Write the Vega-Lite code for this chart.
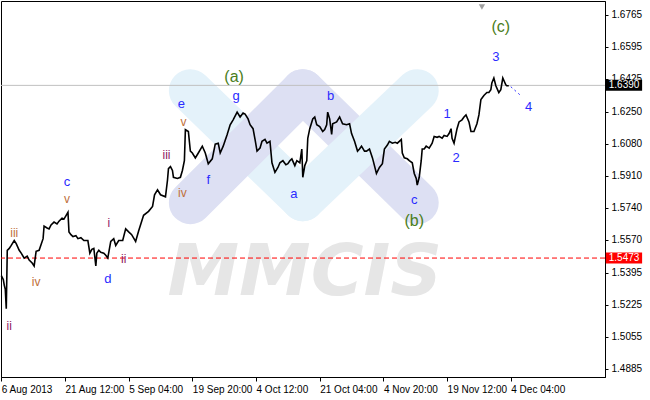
{
  "$schema": "https://vega.github.io/schema/vega-lite/v6.json",
  "width": 604,
  "height": 376,
  "autosize": {"type": "none"},
  "padding": {"left": 1, "top": 1, "right": 45, "bottom": 23},
  "background": "white",
  "config": {
    "view": {"stroke": "black", "strokeWidth": 1},
    "axis": {"labelFont": "Liberation Sans", "labelFontSize": 10, "labelColor": "black", "domainColor": "black", "tickColor": "black", "grid": false, "title": null, "labelOverlap": false, "labelFlush": false}
  },
  "resolve": {"scale": {"color": "independent"}},
  "datasets": {
    "prices": [
      {"bar":0,"price":1.5380},{"bar":2,"price":1.5359},{"bar":3,"price":1.5328},{"bar":4,"price":1.5307},{"bar":5,"price":1.5204},
      {"bar":6,"price":1.5514},{"bar":8,"price":1.5524},{"bar":10,"price":1.5540},{"bar":13,"price":1.5566},{"bar":15,"price":1.5550},
      {"bar":18,"price":1.5514},{"bar":20,"price":1.5499},{"bar":23,"price":1.5473},{"bar":26,"price":1.5483},{"bar":28,"price":1.5462},
      {"bar":31,"price":1.5447},{"bar":33,"price":1.5431},{"bar":35,"price":1.5509},{"bar":38,"price":1.5514},{"bar":40,"price":1.5545},
      {"bar":42,"price":1.5576},{"bar":43,"price":1.5643},{"bar":46,"price":1.5633},{"bar":48,"price":1.5628},{"bar":50,"price":1.5649},
      {"bar":53,"price":1.5664},{"bar":56,"price":1.5654},{"bar":58,"price":1.5669},{"bar":61,"price":1.5685},{"bar":63,"price":1.5680},
      {"bar":67,"price":1.5716},{"bar":68,"price":1.5612},{"bar":70,"price":1.5597},{"bar":72,"price":1.5587},{"bar":75,"price":1.5592},
      {"bar":77,"price":1.5576},{"bar":80,"price":1.5581},{"bar":83,"price":1.5566},{"bar":87,"price":1.5566},{"bar":89,"price":1.5499},
      {"bar":91,"price":1.5519},{"bar":93,"price":1.5524},{"bar":95,"price":1.5431},{"bar":96,"price":1.5499},{"bar":98,"price":1.5514},
      {"bar":100,"price":1.5504},{"bar":103,"price":1.5499},{"bar":105,"price":1.5488},{"bar":107,"price":1.5473},{"bar":110,"price":1.5561},
      {"bar":113,"price":1.5576},{"bar":115,"price":1.5540},{"bar":118,"price":1.5566},{"bar":122,"price":1.5566},{"bar":125,"price":1.5628},
      {"bar":128,"price":1.5612},{"bar":131,"price":1.5597},{"bar":135,"price":1.5561},{"bar":138,"price":1.5617},{"bar":143,"price":1.5700},
      {"bar":148,"price":1.5721},{"bar":152,"price":1.5747},{"bar":154,"price":1.5809},{"bar":157,"price":1.5835},{"bar":160,"price":1.5809},
      {"bar":165,"price":1.5798},{"bar":167,"price":1.5886},{"bar":168,"price":1.5948},{"bar":170,"price":1.5959},{"bar":172,"price":1.5938},
      {"bar":173,"price":1.5902},{"bar":177,"price":1.5896},{"bar":180,"price":1.5902},{"bar":182,"price":1.5938},{"bar":184,"price":1.5990},
      {"bar":185,"price":1.6155},{"bar":188,"price":1.6145},{"bar":190,"price":1.6041},{"bar":192,"price":1.6031},{"bar":195,"price":1.6005},
      {"bar":198,"price":1.6031},{"bar":202,"price":1.6067},{"bar":205,"price":1.6031},{"bar":208,"price":1.5974},{"bar":212,"price":1.6000},
      {"bar":215,"price":1.6078},{"bar":218,"price":1.6083},{"bar":220,"price":1.6031},{"bar":223,"price":1.6067},{"bar":227,"price":1.6129},
      {"bar":230,"price":1.6181},{"bar":233,"price":1.6207},{"bar":237,"price":1.6248},{"bar":240,"price":1.6222},{"bar":243,"price":1.6243},
      {"bar":245,"price":1.6238},{"bar":248,"price":1.6212},{"bar":250,"price":1.6181},{"bar":253,"price":1.6160},{"bar":255,"price":1.6103},
      {"bar":257,"price":1.6041},{"bar":260,"price":1.6057},{"bar":262,"price":1.6093},{"bar":265,"price":1.6103},{"bar":267,"price":1.6083},
      {"bar":270,"price":1.6093},{"bar":272,"price":1.5979},{"bar":275,"price":1.5928},{"bar":278,"price":1.5954},{"bar":280,"price":1.5979},
      {"bar":283,"price":1.5990},{"bar":286,"price":1.5969},{"bar":288,"price":1.5974},{"bar":290,"price":1.5990},{"bar":292,"price":1.6000},
      {"bar":295,"price":1.5964},{"bar":297,"price":1.5990},{"bar":300,"price":1.5979},{"bar":302,"price":1.6052},{"bar":303,"price":1.5902},
      {"bar":305,"price":1.5964},{"bar":307,"price":1.5990},{"bar":308,"price":1.6109},{"bar":310,"price":1.6160},{"bar":313,"price":1.6212},
      {"bar":315,"price":1.6222},{"bar":317,"price":1.6181},{"bar":320,"price":1.6171},{"bar":323,"price":1.6145},{"bar":325,"price":1.6155},
      {"bar":327,"price":1.6181},{"bar":328,"price":1.6248},{"bar":330,"price":1.6212},{"bar":332,"price":1.6129},{"bar":333,"price":1.6186},
      {"bar":337,"price":1.6196},{"bar":340,"price":1.6222},{"bar":343,"price":1.6186},{"bar":347,"price":1.6181},{"bar":350,"price":1.6186},
      {"bar":352,"price":1.6134},{"bar":355,"price":1.6093},{"bar":358,"price":1.6041},{"bar":360,"price":1.6052},{"bar":362,"price":1.6067},
      {"bar":365,"price":1.6041},{"bar":367,"price":1.6041},{"bar":370,"price":1.6052},{"bar":373,"price":1.6005},{"bar":375,"price":1.5964},
      {"bar":377,"price":1.5922},{"bar":380,"price":1.5954},{"bar":383,"price":1.5974},{"bar":385,"price":1.6052},{"bar":388,"price":1.6073},
      {"bar":390,"price":1.6093},{"bar":393,"price":1.6083},{"bar":396,"price":1.6088},{"bar":398,"price":1.6083},{"bar":400,"price":1.6093},
      {"bar":402,"price":1.6103},{"bar":403,"price":1.6031},{"bar":405,"price":1.6005},{"bar":408,"price":1.6000},{"bar":410,"price":1.5990},
      {"bar":413,"price":1.5979},{"bar":415,"price":1.5922},{"bar":417,"price":1.5896},{"bar":418,"price":1.5860},{"bar":420,"price":1.5902},
      {"bar":422,"price":1.5990},{"bar":423,"price":1.6052},{"bar":425,"price":1.6052},{"bar":427,"price":1.6067},{"bar":430,"price":1.6057},
      {"bar":433,"price":1.6083},{"bar":435,"price":1.6119},{"bar":438,"price":1.6114},{"bar":440,"price":1.6119},{"bar":443,"price":1.6109},
      {"bar":445,"price":1.6124},{"bar":448,"price":1.6119},{"bar":450,"price":1.6134},{"bar":452,"price":1.6160},{"bar":453,"price":1.6109},
      {"bar":455,"price":1.6083},{"bar":458,"price":1.6160},{"bar":460,"price":1.6196},{"bar":463,"price":1.6207},{"bar":465,"price":1.6222},
      {"bar":467,"price":1.6233},{"bar":470,"price":1.6196},{"bar":472,"price":1.6145},{"bar":475,"price":1.6145},{"bar":478,"price":1.6186},
      {"bar":480,"price":1.6233},{"bar":482,"price":1.6315},{"bar":485,"price":1.6336},{"bar":488,"price":1.6352},{"bar":490,"price":1.6352},
      {"bar":492,"price":1.6367},{"bar":493,"price":1.6403},{"bar":495,"price":1.6429},{"bar":497,"price":1.6388},{"bar":500,"price":1.6352},
      {"bar":502,"price":1.6367},{"bar":504,"price":1.6429},{"bar":507,"price":1.6393},{"bar":508,"price":1.6388},{"bar":510,"price":1.6388}
    ],
    "labels": [
      {"label":"(a)","bar":234,"price":1.6434,"deg":"P"},
      {"label":"(b)","bar":415,"price":1.5669,"deg":"P"},
      {"label":"(c)","bar":502,"price":1.6698,"deg":"P"},
      {"label":"c","bar":66,"price":1.5876,"deg":"I"},
      {"label":"d","bar":107,"price":1.5364,"deg":"I"},
      {"label":"e","bar":181,"price":1.6289,"deg":"I"},
      {"label":"f","bar":208,"price":1.5886,"deg":"I"},
      {"label":"g","bar":236,"price":1.6336,"deg":"I"},
      {"label":"a","bar":294,"price":1.5814,"deg":"I"},
      {"label":"b","bar":331,"price":1.6331,"deg":"I"},
      {"label":"c","bar":415,"price":1.5783,"deg":"I"},
      {"label":"1","bar":448,"price":1.6238,"deg":"I"},
      {"label":"2","bar":457,"price":1.6005,"deg":"I"},
      {"label":"3","bar":497,"price":1.6543,"deg":"I"},
      {"label":"4","bar":530,"price":1.6274,"deg":"I"},
      {"label":"iii","bar":13,"price":1.5607,"deg":"M1"},
      {"label":"iv","bar":35,"price":1.5344,"deg":"M1"},
      {"label":"v","bar":66,"price":1.5788,"deg":"M1"},
      {"label":"iv","bar":182,"price":1.5819,"deg":"M1"},
      {"label":"v","bar":183,"price":1.6196,"deg":"M1"},
      {"label":"ii","bar":8,"price":1.5111,"deg":"M2"},
      {"label":"i","bar":108,"price":1.5659,"deg":"M2"},
      {"label":"ii","bar":123,"price":1.5468,"deg":"M2"},
      {"label":"iii","bar":166,"price":1.6021,"deg":"M2"}
    ],
    "logo": [
      {"tone":"cyan","bar":190,"price":1.6362,"bar2":303,"price2":1.5783},
      {"tone":"lavender","bar":190,"price":1.5767,"bar2":303,"price2":1.6362},
      {"tone":"lavender","bar":303,"price":1.6362,"bar2":418,"price2":1.5767},
      {"tone":"cyan","bar":303,"price":1.5783,"bar2":418,"price2":1.6362}
    ],
    "levels": [
      {"price": 1.639, "tag": "1.6390", "kind": "ask"},
      {"price": 1.5473, "tag": "1.5473", "kind": "level"}
    ]
  },
  "encoding": {
    "y": {"field": "price", "type": "quantitative", "scale": {"domain": [1.48679, 1.68115], "nice": false, "zero": false},
      "axis": {"title": null, "orient": "right", "values": [1.4885, 1.5055, 1.5225, 1.5395, 1.557, 1.574, 1.591, 1.608, 1.625, 1.6425, 1.6595, 1.6765],
        "format": ".4f", "tickSize": 3, "labelPadding": 3, "labelOverlap": false, "labelBaseline": "middle"}}
  },
  "layer": [
    {
      "data": {"name": "prices"},
      "mark": {"type": "line", "color": "black", "strokeWidth": 1.6, "opacity": 0},
      "encoding": {
        "x": {"field": "bar", "type": "quantitative", "scale": {"domain": [-0.3, 606.7], "nice": false, "zero": false},
          "axis": {"title": null, "values": [0, 64, 128, 192, 256, 320, 384, 448, 512],
            "labelExpr": "['6 Aug 2013','21 Aug 12:00','5 Sep 04:00','19 Sep 20:00','4 Oct 12:00','21 Oct 04:00','4 Nov 20:00','19 Nov 12:00','4 Dec 04:00'][round(datum.value/64)]",
            "labelAlign": "left", "labelBaseline": "top", "labelPadding": 3, "tickSize": 4, "labelFlush": false, "labelOverlap": false}}
      }
    },
    {
      "data": {"name": "logo"},
      "mark": {"type": "rule", "strokeWidth": 43, "strokeCap": "round"},
      "encoding": {
        "x": {"field": "bar", "type": "quantitative"},
        "x2": {"field": "bar2"},
        "y2": {"field": "price2"},
        "color": {"field": "tone", "type": "nominal", "scale": {"domain": ["cyan", "lavender"], "range": ["#e4f2fa", "#dde0f3"]}, "legend": null}
      }
    },
    {
      "data": {"values": [{"bar": 305, "price": 1.5276, "word": "MMCIS"}]},
      "mark": {"type": "text", "font": "DejaVu Sans", "fontWeight": "bold", "fontStyle": "italic", "fontSize": 72, "color": "#e6e6e6", "align": "center", "baseline": "alphabetic"},
      "encoding": {
        "x": {"field": "bar", "type": "quantitative"},
        "text": {"field": "word"}
      }
    },
    {
      "data": {"name": "levels"},
      "transform": [{"filter": "datum.kind === 'ask'"}],
      "mark": {"type": "rule", "strokeWidth": 1, "color": "#c0c0c0"},
      "encoding": {}
    },
    {
      "data": {"name": "levels"},
      "transform": [{"filter": "datum.kind === 'level'"}],
      "mark": {"type": "rule", "strokeWidth": 1, "color": "#ff0000", "strokeDash": [5, 3]},
      "encoding": {}
    },
    {
      "data": {"name": "prices"},
      "mark": {"type": "line", "color": "black", "strokeWidth": 1.6, "strokeJoin": "miter"},
      "encoding": {
        "x": {"field": "bar", "type": "quantitative"}
      }
    },
    {
      "data": {"values": [{"bar": 512, "price": 1.6383}, {"bar": 522, "price": 1.6336}]},
      "mark": {"type": "line", "color": "#3030ff", "strokeWidth": 1, "strokeDash": [2, 3]},
      "encoding": {
        "x": {"field": "bar", "type": "quantitative"}
      }
    },
    {
      "data": {"name": "labels"},
      "transform": [{"filter": "datum.deg === 'P'"}],
      "mark": {"type": "text", "font": "Liberation Sans", "fontSize": 16, "color": "#4a7d20", "align": "center", "baseline": "middle"},
      "encoding": {
        "x": {"field": "bar", "type": "quantitative"},
        "text": {"field": "label"}
      }
    },
    {
      "data": {"name": "labels"},
      "transform": [{"filter": "datum.deg === 'I'"}],
      "mark": {"type": "text", "font": "Liberation Sans", "fontSize": 13, "color": "#2a2aff", "align": "center", "baseline": "middle"},
      "encoding": {
        "x": {"field": "bar", "type": "quantitative"},
        "text": {"field": "label"}
      }
    },
    {
      "data": {"name": "labels"},
      "transform": [{"filter": "datum.deg === 'M1'"}],
      "mark": {"type": "text", "font": "Liberation Sans", "fontSize": 12, "color": "#c0703a", "align": "center", "baseline": "middle"},
      "encoding": {
        "x": {"field": "bar", "type": "quantitative"},
        "text": {"field": "label"}
      }
    },
    {
      "data": {"name": "labels"},
      "transform": [{"filter": "datum.deg === 'M2'"}],
      "mark": {"type": "text", "font": "Liberation Sans", "fontSize": 12, "color": "#902060", "align": "center", "baseline": "middle"},
      "encoding": {
        "x": {"field": "bar", "type": "quantitative"},
        "text": {"field": "label"}
      }
    },
    {
      "data": {"values": [{"bar": 483, "price": 1.6806}]},
      "mark": {"type": "point", "shape": "triangle-down", "size": 40, "filled": true, "color": "#a0a0a0", "opacity": 1},
      "encoding": {
        "x": {"field": "bar", "type": "quantitative"}
      }
    },
    {
      "data": {"name": "levels"},
      "transform": [{"filter": "datum.kind === 'ask'"}],
      "mark": {"type": "bar", "height": 11, "color": "black"},
      "encoding": {
        "x": {"datum": 607.5, "type": "quantitative"},
        "x2": {"datum": 644}
      }
    },
    {
      "data": {"name": "levels"},
      "transform": [{"filter": "datum.kind === 'level'"}],
      "mark": {"type": "bar", "height": 11, "color": "#ff0000"},
      "encoding": {
        "x": {"datum": 607.5, "type": "quantitative"},
        "x2": {"datum": 644}
      }
    },
    {
      "data": {"name": "levels"},
      "mark": {"type": "text", "font": "Liberation Sans", "fontSize": 10, "color": "white", "align": "left", "baseline": "middle"},
      "encoding": {
        "x": {"datum": 610.5, "type": "quantitative"},
        "text": {"field": "tag"}
      }
    }
  ]
}
